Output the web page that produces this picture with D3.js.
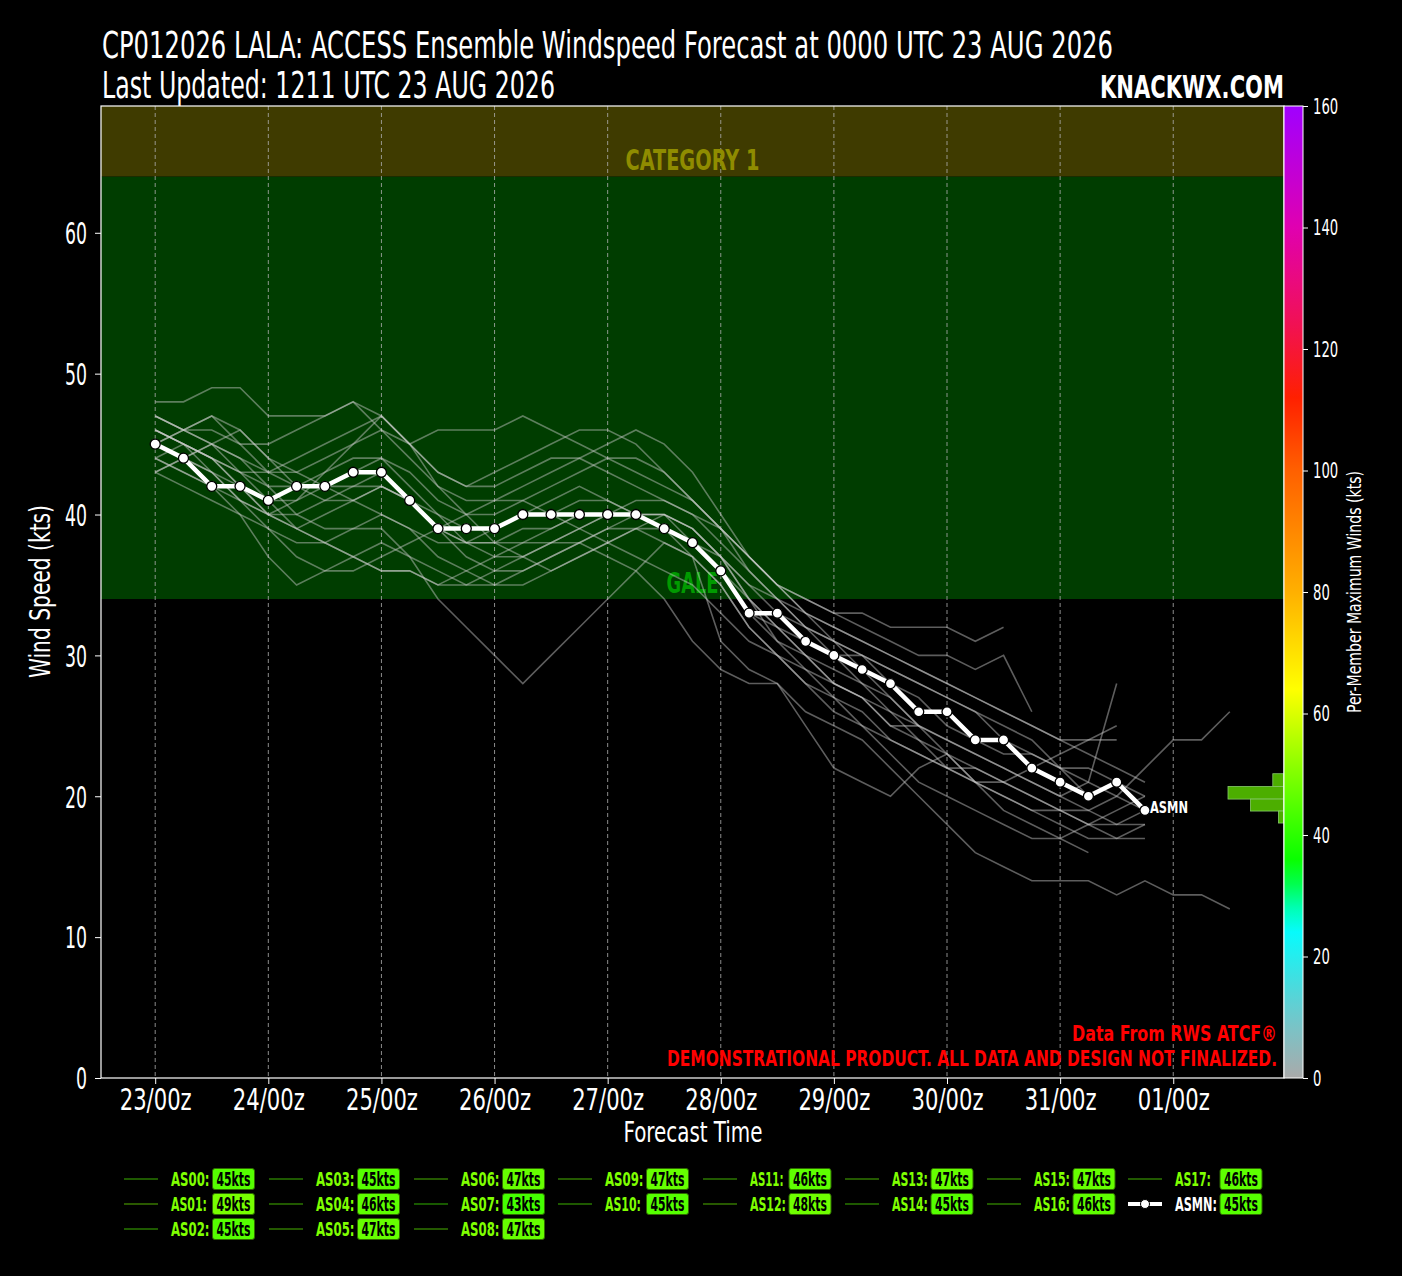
<!DOCTYPE html>
<html>
<head>
<meta charset="utf-8">
<script src="https://cdn.jsdelivr.net/npm/d3@7"></script>
<style>
  body { margin: 0; background: #000; }
  text { font-family: "Liberation Sans Narrow", "DejaVu Sans Condensed", "DejaVu Sans", sans-serif; }
</style>
</head>
<body>
<script>
// forecast hours of each 6-hourly step
const stepHours = 6;

// ensemble mean (ASMN), kts, from hour 0 every 6 h
const asmn = [45, 44, 42, 42, 41, 42, 42, 43, 43, 41, 39, 39, 39, 40, 40, 40, 40, 40,
              39, 38, 36, 33, 33, 31, 30, 29, 28, 26, 26, 24, 24, 22, 21, 20, 21, 19];

// member names and their max winds (legend badges)
const memberNames = ["AS00", "AS01", "AS02", "AS03", "AS04", "AS05", "AS06", "AS07", "AS08",
                     "AS09", "AS10", "AS11", "AS12", "AS13", "AS14", "AS15", "AS16", "AS17"];
const memberMax = [45, 49, 45, 45, 46, 47, 47, 43, 47, 47, 45, 46, 48, 47, 45, 47, 46, 46];
const asmnMax = 45;

// member tracks, kts, every 6 h from hour 0
const as00 = [45,44,43,42,41,41,42,42,43,41,39,38,38,39,39,40,40,40,39,38,36,33,31,30,29,28,27,25,24,23,22,21,20,19,18,18];
const as01 = [48,48,49,49,47,47,47,48,47,45,43,42,42,43,44,44,43,42,41,40,39,37,35,34,33,33,32,32,32,31,32];
const as02 = [44,45,44,42,40,39,38,37,36,36,35,36,37,38,38,39,40,40,40,39,37,34,32,30,28,27,26,25,24,23,22,21,20,21,28];
const as03 = [43,44,45,44,42,40,39,39,40,39,37,36,35,35,36,37,38,39,39,38,36,34,32,30,28,27,25,25];
const as04 = [46,45,44,42,40,39,40,41,42,41,39,37,36,36,37,38,39,39,38,37,31,29,28,25,22,21,20,22,23,21,19,18,17,16];
const as05 = [46,45,44,43,43,44,45,46,47,45,43,42,43,44,45,46,46,45,43,41,39,37,35,33,32,31,30,29,28,27,26,25,24,23,22,21];
const as06 = [45,46,47,46,44,43,42,41,40,39,38,38,39,40,41,42,41,40,39,38,37,35,34,33,32,31,30,29,28,27,26,25,24,24,24];
const as07 = [43,42,41,40,39,38,38,39,39,37,34,32,30,28,30,32,34,36,38,37,35,32,30,28,27,26,24,23,22,21,20,19,18,17,17,18];
const as08 = [44,43,42,41,40,41,43,45,47,45,42,40,38,37,36,37,38,39,40,39,37,34,31,29,27,25,23,21,20,19,18,17,17,18,19,20];
const as09 = [47,46,45,43,41,39,38,37,36,36,35,35,36,37,38,38,37,36,34,31,29,28,28,26,25,24,22,20,18,16,15,14,14,14,13,14,13,13,12];
const as10 = [45,44,43,41,39,37,36,36,37,38,39,40,41,41,40,39,38,37,36,35,33,31,30,29,28,27,25,24,23,22,21,22,23,24,25];
const as11 = [46,45,43,41,40,40,41,42,42,41,40,39,39,40,40,41,41,40,40,38,36,33,32,31,30,30,29,28,27,26,25,24,22,21,20,19];
const as12 = [47,46,46,45,45,46,47,48,46,45,46,46,46,47,46,45,44,43,42,41,39,37,35,34,33,32,31,30,30,29,30,26];
const as13 = [45,46,47,45,43,42,42,43,44,43,41,40,40,41,42,43,44,44,43,41,39,36,34,32,31,30,28,27,25,24,23,23,22,22,21,20];
const as14 = [44,43,42,40,37,35,36,37,38,37,36,35,35,36,37,38,39,40,39,37,35,32,30,28,26,25,24,23,22,22,21,20,19,19,20,22,24,24,26];
const as15 = [47,46,45,44,43,43,44,45,46,44,42,41,41,42,43,44,45,46,45,43,40,37,35,33,31,29,27,25,23,21,20,19,19,18,17,17];
const as16 = [46,45,44,43,42,42,43,44,44,42,40,38,37,37,38,39,40,41,41,40,38,36,34,32,30,28,26,24,22,21,21,20,19,18,18,19];
const as17 = [43,44,45,46,44,42,41,41,42,41,39,38,38,38,39,40,40,40,40,39,37,35,33,32,31,30,29,28,27,26,24,23,22,20];
const memberTracks = [as00, as01, as02, as03, as04, as05, as06, as07, as08,
                      as09, as10, as11, as12, as13, as14, as15, as16, as17];

// day ticks
const tickHours = [0, 24, 48, 72, 96, 120, 144, 168, 192, 216];
const tickLabels = ["23/00z", "24/00z", "25/00z", "26/00z", "27/00z", "28/00z", "29/00z", "30/00z", "31/00z", "01/00z"];
const yTicks = [0, 10, 20, 30, 40, 50, 60];
const cbTicks = [0, 20, 40, 60, 80, 100, 120, 140, 160];

// intensity bands
const bandNames = ["GALE", "CATEGORY 1"];
const bandLow = [34, 64];
const bandHigh = [64, 69];

// histogram of final ensemble winds (bin edges top->bottom, counts)
const histEdges = [21.6, 20.7, 19.8, 18.95, 18.1];
const histCounts = [2, 10, 6, 1];

const width = 1402, height = 1276;
const plotL = 101, plotR = 1284, plotT = 106, plotB = 1078;
const FONT = '"Liberation Sans Narrow", "DejaVu Sans Condensed", "DejaVu Sans", sans-serif';

// the reference uses a condensed face; force text widths to match it
function fit(sel, w) {
    sel.attr("textLength", w).attr("lengthAdjust", "spacingAndGlyphs");
}
// rough glyph widths of the condensed bold legend face
const glyphW = { A: 9, S: 8.5, M: 11, N: 9.5, "1": 6, ":": 4 };
const labelWidth = s => d3.sum(s.split(""), ch => glyphW[ch] || 8.5);

const svg = d3.select("body").append("svg")
    .attr("width", width)
    .attr("height", height)
    .style("background", "#000");

const x = d3.scaleLinear().domain([-11.5, 239.5]).range([plotL, plotR]);
const y = d3.scaleLinear().domain([0, 69]).range([plotB, plotT]);

// colour map for max winds
const cmap = d3.scaleLinear()
    .domain([0, 10, 25, 35, 50, 64, 80, 100, 112, 125, 140, 160])
    .range(["#aaaaaa", "#70c8cc", "#00ffff", "#00ff00", "#80ff00", "#ffff00", "#ffb000",
            "#ff6000", "#ff2000", "#f0105a", "#e000b0", "#a000ff"])
    .clamp(true);

// bands
const bandFill = ["#003d00", "#3f3b00"];
const bandText = ["#009a00", "#8f8c00"];
const bandTextW = [52, 134];
svg.selectAll("rect.band")
    .data(bandNames)
    .enter().append("rect")
    .attr("class", "band")
    .attr("x", plotL)
    .attr("width", plotR - plotL)
    .attr("y", (d, i) => y(bandHigh[i]))
    .attr("height", (d, i) => y(bandLow[i]) - y(bandHigh[i]))
    .attr("fill", (d, i) => bandFill[i]);

// dashed day gridlines
svg.selectAll("line.grid")
    .data(tickHours)
    .enter().append("line")
    .attr("x1", d => x(d)).attr("x2", d => x(d))
    .attr("y1", plotT).attr("y2", plotB)
    .attr("stroke", "#b0b0b0")
    .attr("stroke-width", 0.8)
    .attr("stroke-dasharray", "4,3");

svg.selectAll("text.band")
    .data(bandNames)
    .enter().append("text")
    .attr("x", (d, i) => (plotL + plotR) / 2 - bandTextW[i] / 2)
    .attr("y", (d, i) => y(bandLow[i]) - 6)
    .attr("font-size", 28)
    .attr("font-weight", "bold")
    .attr("fill", (d, i) => bandText[i])
    .attr("textLength", (d, i) => bandTextW[i])
    .attr("lengthAdjust", "spacingAndGlyphs")
    .text(d => d);

// member lines
const line = d3.line()
    .x((d, i) => x(i * stepHours))
    .y(d => y(d));

svg.append("g")
    .selectAll("path")
    .data(memberTracks)
    .enter().append("path")
    .attr("d", line)
    .attr("fill", "none")
    .attr("stroke", "#cfcfcf")
    .attr("stroke-opacity", 0.45)
    .attr("stroke-width", 1.6);

// ensemble mean
svg.append("path")
    .datum(asmn)
    .attr("d", line)
    .attr("fill", "none")
    .attr("stroke", "#fff")
    .attr("stroke-width", 4.5);

svg.append("g")
    .selectAll("circle")
    .data(asmn)
    .enter().append("circle")
    .attr("cx", (d, i) => x(i * stepHours))
    .attr("cy", d => y(d))
    .attr("r", 5)
    .attr("fill", "#fff")
    .attr("stroke", "#000")
    .attr("stroke-width", 1.3);

svg.append("text")
    .attr("x", x((asmn.length - 1) * stepHours) + 5)
    .attr("y", y(asmn[asmn.length - 1]) + 3)
    .attr("fill", "#fff")
    .attr("font-size", 15)
    .attr("font-weight", "bold")
    .call(fit, 38)
    .text("ASMN");

// histogram
const hx = d3.scaleLinear().domain([0, 10]).range([plotR, plotR - 56]);
svg.append("g")
    .selectAll("rect")
    .data(histCounts)
    .enter().append("rect")
    .attr("x", d => hx(d))
    .attr("width", d => plotR - hx(d))
    .attr("y", (d, i) => y(histEdges[i]))
    .attr("height", (d, i) => y(histEdges[i + 1]) - y(histEdges[i]))
    .attr("fill", "#4cae00")
    .attr("stroke", "#86c96a")
    .attr("stroke-width", 0.8);

// plot frame
svg.append("rect")
    .attr("x", plotL).attr("y", plotT)
    .attr("width", plotR - plotL).attr("height", plotB - plotT)
    .attr("fill", "none")
    .attr("stroke", "#fff")
    .attr("stroke-width", 1.2);

// axes
const yAxis = svg.append("g")
    .attr("transform", `translate(${plotL},0)`)
    .call(d3.axisLeft(y).tickValues(yTicks).tickSize(6).tickPadding(8));
const xAxis = svg.append("g")
    .attr("transform", `translate(0,${plotB})`)
    .call(d3.axisBottom(x).tickValues(tickHours).tickSize(6).tickPadding(5)
        .tickFormat((d, i) => tickLabels[i]));
[yAxis, xAxis].forEach(a => {
    a.select(".domain").remove();
    a.selectAll("line").attr("stroke", "#fff");
    a.selectAll("text")
        .attr("fill", "#fff")
        .attr("font-size", 30)
        .style("font-family", FONT);
});
xAxis.selectAll("text").attr("dy", "0.71em")
    .attr("textLength", 72).attr("lengthAdjust", "spacingAndGlyphs");
yAxis.selectAll("text").attr("dy", "0.36em")
    .attr("textLength", d => String(d).length * 11).attr("lengthAdjust", "spacingAndGlyphs");

svg.append("text")
    .attr("transform", `translate(50,${(plotT + plotB) / 2}) rotate(-90)`)
    .attr("x", -86)
    .attr("fill", "#fff")
    .attr("font-size", 28)
    .call(fit, 173)
    .text("Wind Speed (kts)");

svg.append("text")
    .attr("x", (plotL + plotR) / 2 - 69)
    .attr("y", 1142)
    .attr("fill", "#fff")
    .attr("font-size", 29)
    .call(fit, 139)
    .text("Forecast Time");

// colour bar
const cbX = 1284, cbW = 19;
const cbY = d3.scaleLinear().domain([0, 160]).range([plotB, plotT]);
const defs = svg.append("defs");
const grad = defs.append("linearGradient")
    .attr("id", "cbgrad")
    .attr("x1", 0).attr("y1", 1).attr("x2", 0).attr("y2", 0);
grad.selectAll("stop")
    .data(d3.range(0, 161, 4))
    .enter().append("stop")
    .attr("offset", d => d / 160)
    .attr("stop-color", d => cmap(d));
svg.append("rect")
    .attr("x", cbX).attr("y", plotT)
    .attr("width", cbW).attr("height", plotB - plotT)
    .attr("fill", "url(#cbgrad)")
    .attr("stroke", "#fff")
    .attr("stroke-width", 1);
const cbAxis = svg.append("g")
    .attr("transform", `translate(${cbX + cbW},0)`)
    .call(d3.axisRight(cbY).tickValues(cbTicks).tickSize(5).tickPadding(5));
cbAxis.select(".domain").remove();
cbAxis.selectAll("line").attr("stroke", "#fff");
cbAxis.selectAll("text")
    .attr("fill", "#fff")
    .attr("font-size", 22)
    .style("font-family", FONT)
    .attr("textLength", d => String(d).length * 8.4)
    .attr("lengthAdjust", "spacingAndGlyphs");

svg.append("text")
    .attr("transform", `translate(1361,${(plotT + plotB) / 2}) rotate(-90)`)
    .attr("x", -121)
    .attr("fill", "#fff")
    .attr("font-size", 20)
    .call(fit, 242)
    .text("Per-Member Maximum Winds (kts)");

// titles
svg.append("text")
    .attr("x", 102).attr("y", 58)
    .attr("fill", "#fff").attr("font-size", 37)
    .call(fit, 1011)
    .text("CP012026 LALA: ACCESS Ensemble Windspeed Forecast at 0000 UTC 23 AUG 2026");
svg.append("text")
    .attr("x", 102).attr("y", 98)
    .attr("fill", "#fff").attr("font-size", 37)
    .call(fit, 453)
    .text("Last Updated: 1211 UTC 23 AUG 2026");
svg.append("text")
    .attr("x", 1100).attr("y", 98)
    .attr("fill", "#fff").attr("font-size", 32).attr("font-weight", "bold")
    .call(fit, 184)
    .text("KNACKWX.COM");

// disclaimer
svg.append("text")
    .attr("x", 1072).attr("y", 1041)
    .attr("fill", "#ff0000").attr("font-size", 22).attr("font-weight", "bold")
    .call(fit, 205)
    .text("Data From RWS ATCF®");
svg.append("text")
    .attr("x", 667).attr("y", 1066)
    .attr("fill", "#ff0000").attr("font-size", 22).attr("font-weight", "bold")
    .call(fit, 610)
    .text("DEMONSTRATIONAL PRODUCT. ALL DATA AND DESIGN NOT FINALIZED.");

// legend: column-major, 8 columns
const legendItems = memberNames.map((n, i) => ({ name: n, max: memberMax[i], mean: false }))
    .concat([{ name: "ASMN", max: asmnMax, mean: true }]);
const colSizes = [3, 3, 3, 2, 2, 2, 2, 2];
const colX = [124, 269, 414, 558, 703, 845, 987, 1128];
const rowY = [1179, 1204, 1229];
let k = 0;
colSizes.forEach((n, c) => {
    const items = legendItems.slice(k, k + n);
    k += n;
    const g = svg.append("g");
    items.forEach((it, r) => {
        const gy = rowY[r];
        if (it.mean) {
            g.append("line").attr("x1", colX[c]).attr("x2", colX[c] + 34)
                .attr("y1", gy).attr("y2", gy)
                .attr("stroke", "#fff").attr("stroke-width", 4);
            g.append("circle").attr("cx", colX[c] + 17).attr("cy", gy).attr("r", 4.5)
                .attr("fill", "#fff").attr("stroke", "#000").attr("stroke-width", 1);
        } else {
            g.append("line").attr("x1", colX[c]).attr("x2", colX[c] + 34)
                .attr("y1", gy).attr("y2", gy)
                .attr("stroke", cmap(it.max)).attr("stroke-opacity", 0.35)
                .attr("stroke-width", 2);
        }
        g.append("text")
            .attr("x", colX[c] + 47).attr("y", gy + 7)
            .attr("fill", it.mean ? "#fff" : "#7fff00")
            .attr("font-size", 19).attr("font-weight", "bold")
            .call(fit, labelWidth(it.name + ":"))
            .text(it.name + ":");
    });
    const maxW = d3.max(items, it => labelWidth(it.name + ":"));
    const bx = colX[c] + 47 + maxW + 3;
    items.forEach((it, r) => {
        const gy = rowY[r];
        g.append("rect")
            .attr("x", bx).attr("y", gy - 10.5)
            .attr("width", 42).attr("height", 21).attr("rx", 2.5)
            .attr("fill", cmap(it.max))
            .attr("stroke", "#2f6a00").attr("stroke-width", 1);
        g.append("text")
            .attr("x", bx + 4).attr("y", gy + 7)
            .attr("fill", "#000")
            .attr("font-size", 19).attr("font-weight", "bold")
            .call(fit, 34)
            .text(it.max + "kts");
    });
});
</script>
</body>
</html>
